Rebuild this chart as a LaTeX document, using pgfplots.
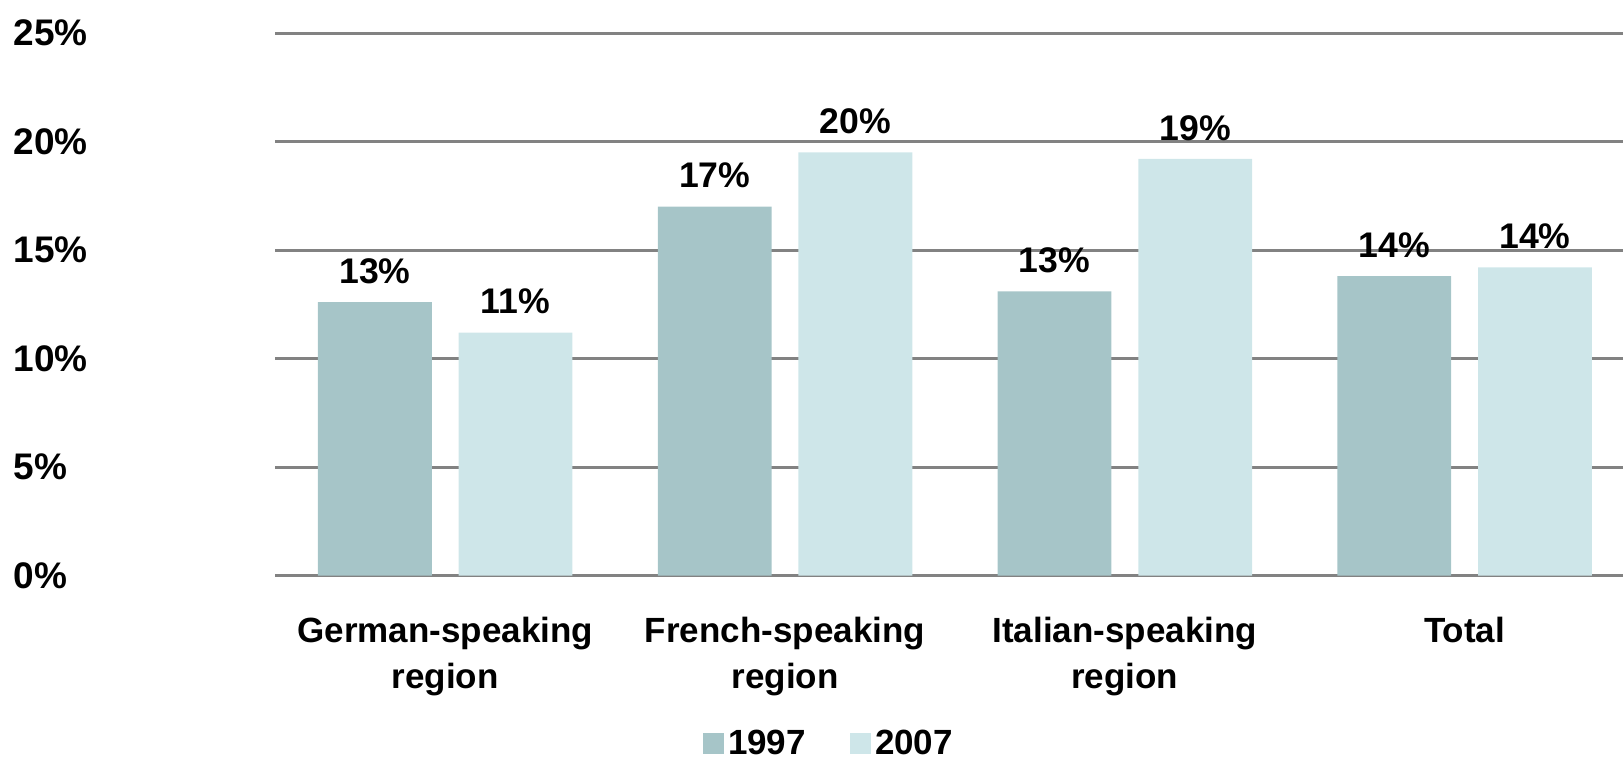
\documentclass[border=0pt]{standalone}
\usepackage{fontspec}
\setmainfont{Liberation Sans}
\usepackage{pgfplots}
\pgfplotsset{compat=1.18}
\definecolor{c97}{RGB}{166,197,200}
\definecolor{c07}{RGB}{206,230,233}
\definecolor{gridc}{RGB}{130,130,130}
\begin{document}
\begin{tikzpicture}
\begin{axis}[
 at={(0,0)}, anchor=south west,
 scale only axis, width=673.85pt, height=271.2pt,
 xmin=-0.5, xmax=3.466, ymin=0, ymax=25,
 ybar, bar width=0.335,
 ytick={0,5,10,15,20,25},
 yticklabels={0\%,5\%,10\%,15\%,20\%,25\%},
 xtick={0,1,2,3},
 xticklabels={German-speaking\\region, French-speaking\\region, Italian-speaking\\region, Total},
 major tick length=0pt,
 axis line style={draw=none},
 ymajorgrids, grid style={draw=gridc, line width=1.5pt},
 xticklabel style={font=\fontsize{17.5}{23}\selectfont\bfseries, align=center, anchor=north, inner sep=0pt, yshift=-20.5pt},
 yticklabel style={font=\fontsize{18.5}{22}\selectfont\bfseries, anchor=west, inner sep=0pt, xshift=-131pt},
 clip=false,
 point meta=explicit symbolic,
 nodes near coords,
 nodes near coords style={font=\fontsize{17.8}{20}\selectfont\bfseries, anchor=south, inner sep=0pt, yshift=9pt},
 legend style={draw=none, fill=none, at={(0.4115,-0.310)}, anchor=center, legend columns=2,
   font=\fontsize{17.5}{20}\selectfont\bfseries,
   /tikz/every even column/.append style={column sep=20pt}},
 legend image code/.code={\path[#1,draw=none] (0pt,-5.3pt) rectangle (10.6pt,5.3pt);},
]
\addplot[fill=c97, draw=none, bar shift=-0.207] coordinates {(0,12.6)[13\%] (1,17.0)[17\%] (2,13.1)[13\%] (3,13.8)[14\%]};
\addplot[fill=c07, draw=none, bar shift=0.207] coordinates {(0,11.2)[11\%] (1,19.5)[20\%] (2,19.2)[19\%] (3,14.2)[14\%]};
\legend{1997,2007}
\end{axis}
\pgfresetboundingbox
\path[use as bounding box] (-137.65pt,-95.75pt) rectangle (673.85pt,287.75pt);
\end{tikzpicture}
\end{document}
